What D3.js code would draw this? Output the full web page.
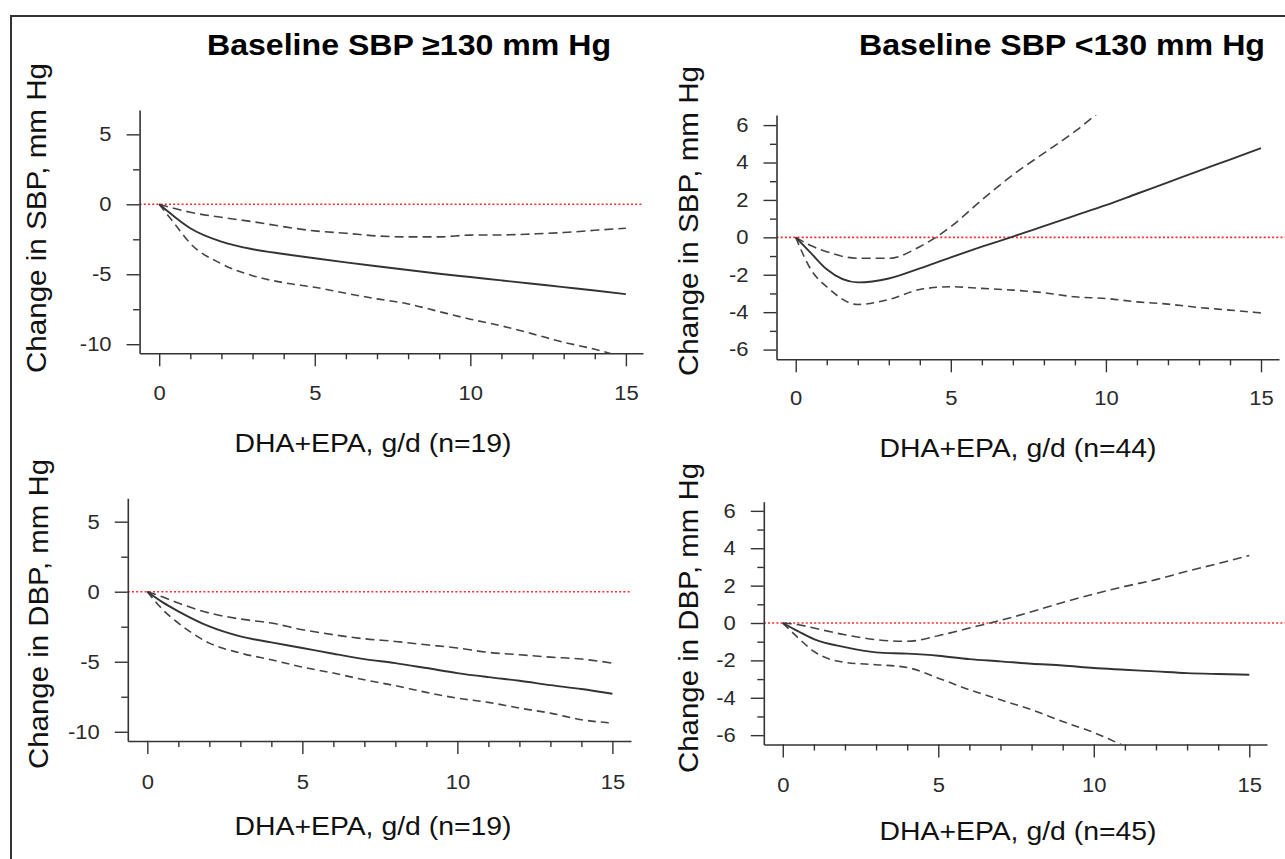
<!DOCTYPE html>
<html><head><meta charset="utf-8">
<script src="https://cdn.jsdelivr.net/npm/d3@7"></script>
<style>
body{margin:0;background:#fff}
svg{display:block}
text{font-family:"Liberation Sans",Arial,Helvetica,sans-serif}
</style>
</head><body>
<svg id="chart" width="1285" height="859"></svg>
<script>
// ---------- data ----------
const dose = [0,0.5,1,2,3,4,5,6,7,8,9,10,11,12,13,14,15];
const xMajorTicks = [0,5,10,15];
const xMinorTicks = [1,2,3,4,6,7,8,9,11,12,13,14];

const titles = ["Baseline SBP \u2265130 mm Hg", "Baseline SBP <130 mm Hg"];
const yLabels = ["Change in SBP, mm Hg", "Change in SBP, mm Hg", "Change in DBP, mm Hg", "Change in DBP, mm Hg"];
const xLabels = ["DHA+EPA, g/d (n=19)", "DHA+EPA, g/d (n=44)", "DHA+EPA, g/d (n=19)", "DHA+EPA, g/d (n=45)"];

// Top-left: SBP, baseline >=130
const sbpHighFit   = [0,-0.9,-1.71,-2.67,-3.21,-3.55,-3.86,-4.15,-4.43,-4.7,-4.96,-5.2,-5.44,-5.68,-5.92,-6.16,-6.42];
const sbpHighUpper = [0,-0.3,-0.57,-0.93,-1.24,-1.6,-1.9,-2.07,-2.26,-2.33,-2.33,-2.2,-2.19,-2.12,-2.02,-1.86,-1.71];
const sbpHighLower = [0,-1.4,-2.8,-4.25,-5.1,-5.6,-5.93,-6.36,-6.76,-7.12,-7.67,-8.21,-8.69,-9.26,-9.86,-10.36,-11.0];
// Top-right: SBP, baseline <130
const sbpLowFit   = [0,-0.86,-1.71,-2.41,-2.2,-1.66,-1.07,-0.5,0.04,0.6,1.16,1.72,2.33,2.94,3.55,4.16,4.77];
const sbpLowUpper = [0,-0.45,-0.77,-1.12,-1.12,-0.5,0.57,2.0,3.34,4.5,5.66,7.0];
const sbpLowLower = [0,-1.75,-2.64,-3.59,-3.32,-2.79,-2.64,-2.73,-2.82,-2.96,-3.18,-3.27,-3.45,-3.57,-3.75,-3.89,-4.04];
// Bottom-left: DBP, baseline >=130
const dbpHighFit   = [0,-0.76,-1.4,-2.48,-3.19,-3.62,-4.02,-4.43,-4.81,-5.1,-5.45,-5.81,-6.1,-6.36,-6.67,-6.95,-7.29];
const dbpHighUpper = [0,-0.38,-0.81,-1.52,-1.95,-2.24,-2.71,-3.07,-3.36,-3.55,-3.79,-4.02,-4.33,-4.5,-4.67,-4.81,-5.1];
const dbpHighLower = [0,-1.29,-2.24,-3.67,-4.38,-4.86,-5.38,-5.81,-6.29,-6.71,-7.19,-7.6,-7.9,-8.31,-8.67,-9.14,-9.38];
// Bottom-right: DBP, baseline <130
const dbpLowFit   = [0,-0.45,-0.86,-1.29,-1.57,-1.64,-1.75,-1.93,-2.05,-2.18,-2.27,-2.41,-2.5,-2.59,-2.68,-2.73,-2.77];
const dbpLowUpper = [0,-0.09,-0.27,-0.63,-0.89,-0.98,-0.68,-0.27,0.14,0.6,1.1,1.55,1.96,2.32,2.77,3.18,3.61];
const dbpLowLower = [0,-0.8,-1.52,-2.11,-2.23,-2.38,-2.95,-3.57,-4.11,-4.64,-5.27,-5.86,-6.6];

const yTicksA = {major:[-10,-5,0,5], minor:[-7.5,-2.5,2.5]};
const yTicksB = {major:[-6,-4,-2,0,2,4,6], minor:[-5,-3,-1,1,3,5]};

// ---------- layout ----------
const panels = [
  {left:139.6, right:643,  top:110,   bottom:353.3, xd:[-0.63,15.55], yd:[-10.65,6.74], yt:yTicksA,
   fit:sbpHighFit, upper:sbpHighUpper, lower:sbpHighLower, xPad:20, redRight:643,
   ylab:yLabels[0], ylx:46, yly:218, xlab:xLabels[0], xlx:373, xly:452},
  {left:776.5, right:1279, top:115,   bottom:359.3, xd:[-0.62,15.58], yd:[-6.52,6.54], yt:yTicksB,
   fit:sbpLowFit, upper:sbpLowUpper, lower:sbpLowLower, xPad:19, redRight:1285,
   ylab:yLabels[1], ylx:698, yly:221, xlab:xLabels[1], xlx:1018, xly:457},
  {left:127.8, right:631,  top:498.3, bottom:741,   xd:[-0.63,15.6], yd:[-10.66,6.67], yt:yTicksA,
   fit:dbpHighFit, upper:dbpHighUpper, lower:dbpHighLower, xPad:21, redRight:631,
   ylab:yLabels[2], ylx:48, yly:614, xlab:xLabels[2], xlx:373, xly:835},
  {left:763.8, right:1267, top:501.7, bottom:744.5, xd:[-0.61,15.57], yd:[-6.5,6.49], yt:yTicksB,
   fit:dbpLowFit, upper:dbpLowUpper, lower:dbpLowLower, xPad:20, redRight:1285,
   ylab:yLabels[3], ylx:698, yly:618, xlab:xLabels[3], xlx:1018, xly:840}
];

const svg = d3.select("#chart");
svg.append("rect").attr("width",1285).attr("height",859).attr("fill","#fff");

// outer frame
svg.append("path").attr("d","M11,859 V16 H1285").attr("fill","none")
  .attr("stroke","#333").attr("stroke-width",2);

// titles
svg.append("text").attr("x",207).attr("y",55).attr("font-size",29).attr("font-weight","bold")
  .attr("textLength",404).attr("lengthAdjust","spacingAndGlyphs").text(titles[0]);
svg.append("text").attr("x",859).attr("y",55).attr("font-size",29).attr("font-weight","bold")
  .attr("textLength",406).attr("lengthAdjust","spacingAndGlyphs").text(titles[1]);

function stretch(sel, k){
  sel.each(function(){
    const w = this.getComputedTextLength();
    d3.select(this).attr("textLength", w*k).attr("lengthAdjust","spacingAndGlyphs");
  });
}
const fmt = d => String(d);

panels.forEach((p,i)=>{
  const g = svg.append("g");
  const x = d3.scaleLinear().domain(p.xd).range([p.left,p.right]);
  const y = d3.scaleLinear().domain(p.yd).range([p.bottom,p.top]);

  const clipId = "clip"+i;
  svg.append("clipPath").attr("id",clipId).append("rect")
    .attr("x",p.left).attr("y",p.top).attr("width",p.right-p.left).attr("height",p.bottom-p.top);

  // reference line at 0
  g.append("line").attr("x1",p.left).attr("x2",p.redRight).attr("y1",y(0)).attr("y2",y(0))
    .attr("stroke","#ff2a2a").attr("stroke-width",1.6).attr("stroke-dasharray","2,2.2");

  // y axis
  const ya = g.append("g").attr("transform",`translate(${p.left},0)`)
    .call(d3.axisLeft(y).tickValues(p.yt.major).tickFormat(fmt).tickSize(13).tickSizeOuter(0).tickPadding(15));
  g.append("g").attr("transform",`translate(${p.left},0)`)
    .call(d3.axisLeft(y).tickValues(p.yt.minor).tickSize(6.5).tickSizeOuter(0).tickFormat(""))
    .select(".domain").remove();
  // x axis
  const xa = g.append("g").attr("transform",`translate(0,${p.bottom})`)
    .call(d3.axisBottom(x).tickValues(xMajorTicks).tickFormat(fmt).tickSize(13).tickSizeOuter(0).tickPadding(p.xPad));
  g.append("g").attr("transform",`translate(0,${p.bottom})`)
    .call(d3.axisBottom(x).tickValues(xMinorTicks).tickSize(6).tickSizeOuter(0).tickFormat(""))
    .select(".domain").remove();

  g.selectAll(".domain").attr("stroke","#333").attr("stroke-width",1.6);
  g.selectAll(".tick line").attr("stroke","#333").attr("stroke-width",1.4);
  g.selectAll("g.tick text").attr("font-size",20).attr("fill","#2a2a2a")
    .style("font-size","20px").attr("font-family","'Liberation Sans',Arial,sans-serif");
  stretch(ya.selectAll(".tick text"),1.1);
  stretch(xa.selectAll(".tick text"),1.1);

  // curves
  const lineGen = d3.line().x((d,j)=>x(dose[j])).y(d=>y(d)).curve(d3.curveMonotoneX);
  const lg = g.append("g").attr("clip-path",`url(#${clipId})`);
  lg.append("path").attr("d",lineGen(p.upper)).attr("fill","none")
    .attr("stroke","#444").attr("stroke-width",1.6).attr("stroke-dasharray","9,5");
  lg.append("path").attr("d",lineGen(p.lower)).attr("fill","none")
    .attr("stroke","#444").attr("stroke-width",1.6).attr("stroke-dasharray","8,5");
  lg.append("path").attr("d",lineGen(p.fit)).attr("fill","none")
    .attr("stroke","#333").attr("stroke-width",1.9);

  // axis labels
  svg.append("text").attr("transform",`translate(${p.ylx},${p.yly}) rotate(-90)`)
    .attr("text-anchor","middle").attr("font-size",28).attr("fill","#111")
    .attr("textLength",310).attr("lengthAdjust","spacingAndGlyphs").text(p.ylab);
  svg.append("text").attr("x",p.xlx).attr("y",p.xly).attr("text-anchor","middle")
    .attr("font-size",25.5).attr("fill","#111")
    .attr("textLength",277).attr("lengthAdjust","spacingAndGlyphs").text(p.xlab);
});
</script>
</body></html>
